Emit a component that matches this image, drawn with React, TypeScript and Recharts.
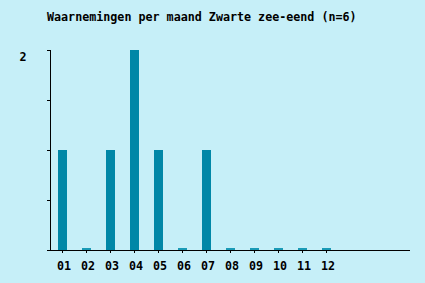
import { BarChart, Bar, XAxis, YAxis, Cell } from 'recharts';

const months = ['01', '02', '03', '04', '05', '06', '07', '08', '09', '10', '11', '12'];
const counts = [1, 0, 1, 2, 1, 0, 1, 0, 0, 0, 0, 0];
const yTicks = [0, 0.5, 1, 1.5, 2];

const data = months.map((m, i) => ({ month: m, value: counts[i] }));

const FONT = '"DejaVu Sans Mono", "Liberation Mono", monospace';
const crisp = { stroke: '#000', shapeRendering: 'crispEdges' };

const XTick = (props: any) => {
  const { x, y, payload } = props;
  return (
    <text x={x + 2} y={y + 15} textAnchor="middle" fontFamily={FONT} fontWeight="bold" fontSize={11.7} fill="#000">
      {payload.value}
    </text>
  );
};

const YTick = (props: any) => {
  const { y, payload } = props;
  if (payload.value !== 2) return <g />;
  return (
    <text x={23} y={y + 11} textAnchor="middle" fontFamily={FONT} fontWeight="bold" fontSize={11.7} fill="#000">
      {payload.value}
    </text>
  );
};

export default function App() {
  return (
    <div style={{ position: 'relative', width: 425, height: 283, background: '#c6eff8' }}>
      <style>{'body{margin:0}'}</style>
      <div
        style={{
          position: 'absolute',
          left: 47,
          top: 10,
          fontFamily: FONT,
          fontWeight: 'bold',
          fontSize: 11.7,
          lineHeight: '14px',
          whiteSpace: 'pre',
        }}
      >
        Waarnemingen per maand Zwarte zee-eend (n=6)
      </div>
      <BarChart width={425} height={283} data={data} margin={{ top: 50, right: 15, bottom: 3, left: 20 }} barSize={9}>
        <XAxis
          dataKey="month"
          padding={{ left: 0, right: 72 }}
          tickSize={3}
          axisLine={crisp}
          tickLine={crisp}
          tick={<XTick />}
          interval={0}
          height={30}
        />
        <YAxis
          width={30}
          domain={[0, 2]}
          ticks={yTicks}
          tickSize={3}
          axisLine={crisp}
          tickLine={crisp}
          tick={<YTick />}
          interval={0}
        />
        <Bar dataKey="value" isAnimationActive={false} minPointSize={2}>
          {data.map((d, i) => (
            <Cell key={`c-${i}`} fill={d.value === 0 ? '#1a9ab6' : '#0087a7'} />
          ))}
        </Bar>
      </BarChart>
    </div>
  );
}
